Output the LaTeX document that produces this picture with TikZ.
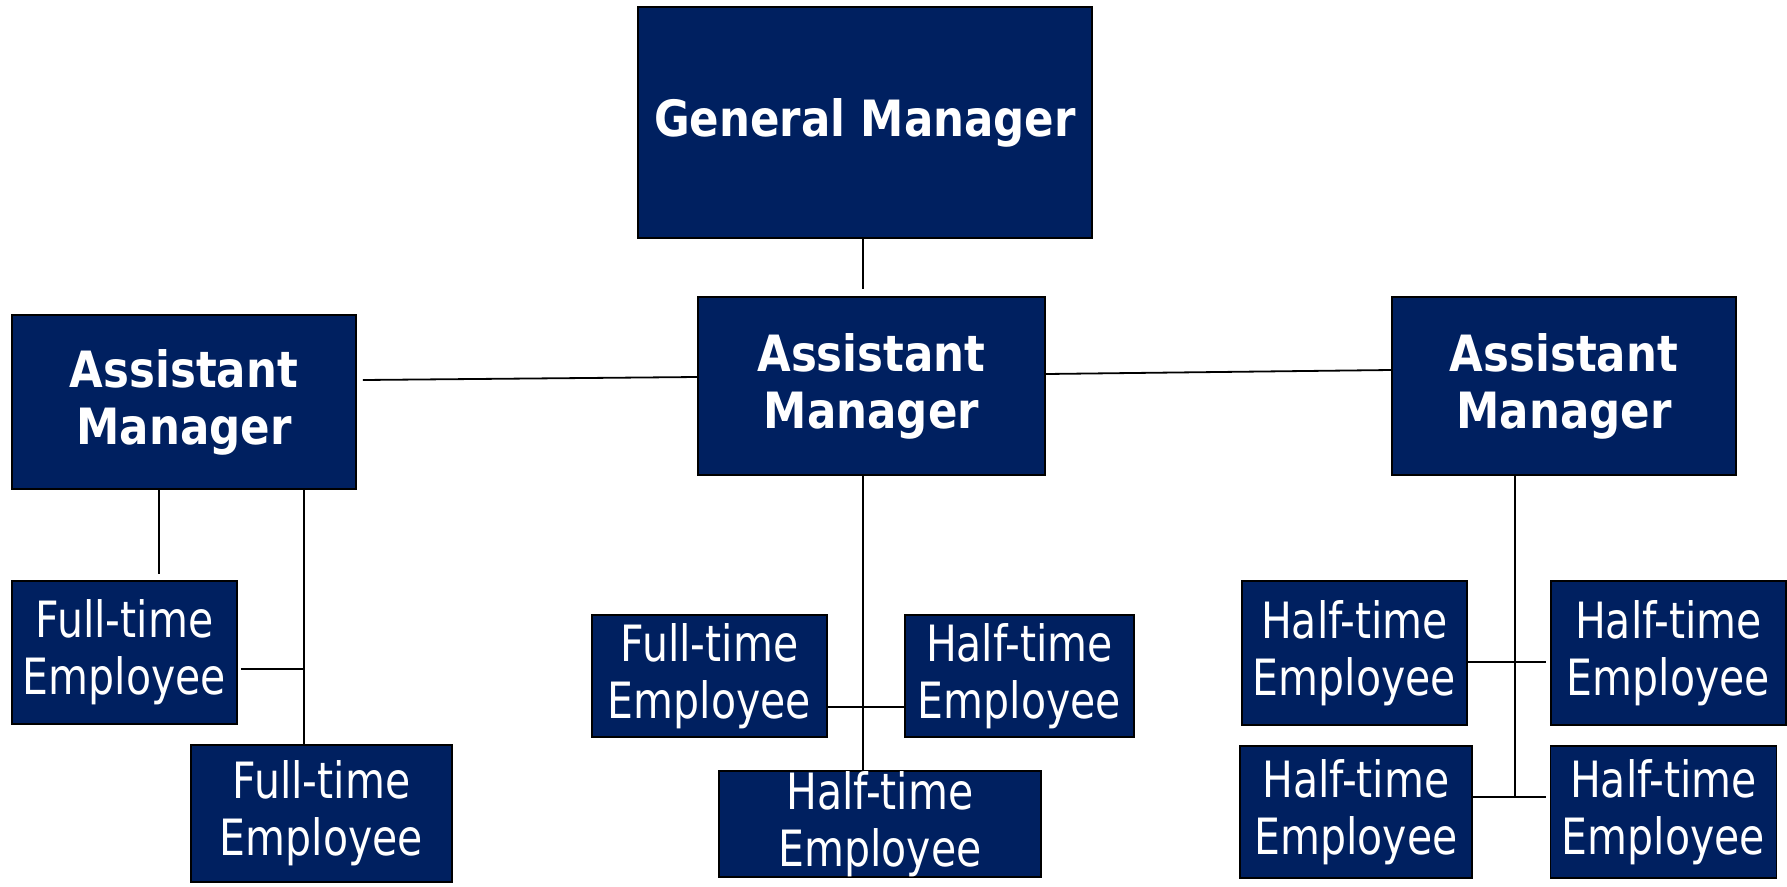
\documentclass[tikz,border=0pt]{standalone}
\usetikzlibrary{positioning}
\usepackage{xcolor}
\usepackage{fontspec}
\setmainfont{DejaVu Sans}[FakeStretch=0.82, BoldFeatures={FakeStretch=0.87}]
\definecolor{orgblue}{RGB}{0,32,96}
\def\boxfont{\fontsize{50}{57}\selectfont}

\begin{document}
\begin{tikzpicture}[x=1pt,y=-1pt,line width=1.8pt]
    \tikzstyle{box}=[rectangle,draw=black,fill=orgblue,text=white,inner sep=0pt,align=center,font=\boxfont]
    \tikzstyle{manager}=[box,font=\boxfont\bfseries]
    \tikzstyle{employee}=[box]

    \useasboundingbox (0,0) rectangle (1787,886);

    % managers
    \node[manager,minimum width=454,minimum height=231] (gm) at (865,122.5) {General Manager};
    \node[manager,minimum width=347,minimum height=178] (amC) at (871.5,386) {Assistant\\Manager};
    \node[manager,minimum width=344,minimum height=174] (amL) at (184,402) {Assistant\\Manager};
    \node[manager,minimum width=344,minimum height=178] (amR) at (1564,386) {Assistant\\Manager};

    % employees
    \node[employee,minimum width=225,minimum height=143] (ftL1) at (124.5,652.5) {Full-time\\Employee};
    \node[employee,minimum width=261,minimum height=137] (ftL2) at (321.5,813.5) {Full-time\\Employee};
    \node[employee,minimum width=235,minimum height=122] (ftC) at (709.5,676) {Full-time\\Employee};
    \node[employee,minimum width=229,minimum height=122] (htC) at (1019.5,676) {Half-time\\Employee};
    \node[employee,minimum width=322,minimum height=106] (htCb) at (880,824) {Half-time\\Employee};
    \node[employee,minimum width=225,minimum height=144] (htR1) at (1354.5,653) {Half-time\\Employee};
    \node[employee,minimum width=235,minimum height=144] (htR2) at (1668.5,653) {Half-time\\Employee};
    \node[employee,minimum width=232,minimum height=132] (htR3) at (1356,812) {Half-time\\Employee};
    \node[employee,minimum width=226,minimum height=132] (htR4) at (1663.5,812) {Half-time\\Employee};

    % joints
    \coordinate (gmEnd) at (863,289);
    \coordinate (lStub) at (159,574);
    \coordinate (lTrunk) at (304,745);
    \coordinate (lJoin) at (304,669);
    \coordinate (cTrunk) at (863,771);
    \coordinate (cJoin) at (863,707);
    \coordinate (rTrunk) at (1515,797);
    \coordinate (rJoin) at (1515,662);

    \draw (gm.south -| gmEnd) -- (gmEnd);
    \draw ([xshift=6pt,yshift=22pt]amL.east) -- ([yshift=9pt]amC.west);
    \draw ([yshift=12pt]amC.east) -- ([yshift=16pt]amR.west);

    \draw (amL.south -| lStub) -- (lStub);
    \draw (amL.south -| lTrunk) -- (lTrunk);
    \draw ([xshift=3pt,yshift=-16.5pt]ftL1.east) -- (lJoin);

    \draw (amC.south -| cTrunk) -- (cTrunk);
    \draw (ftC.east |- cJoin) -- (htC.west |- cJoin);

    \draw (amR.south -| rTrunk) -- (rTrunk);
    \draw (htR1.east |- rJoin) -- ([xshift=-4pt]htR2.west |- rJoin);
    \draw (htR3.east |- rTrunk) -- ([xshift=-4pt]htR4.west |- rTrunk);
\end{tikzpicture}
\end{document}
